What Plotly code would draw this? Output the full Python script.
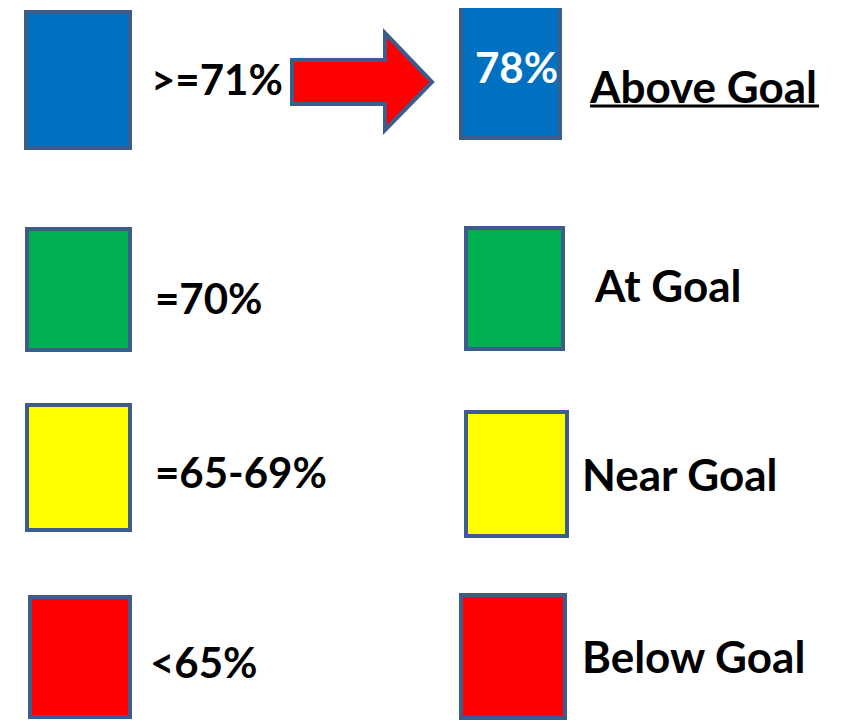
import plotly.graph_objects as go

# legend content
range_labels = [">=71%", "=70%", "=65-69%", "<65%"]
status_labels = ["Above Goal", "At Goal", "Near Goal", "Below Goal"]
fill_colors = ["#0070C0", "#00B050", "#FFFF00", "#FF0000"]
example_value = "78%"

# layout (pixel space of the page, y grows downward)
W, H = 846, 721
PAD = 8  # default body margin of the html page
left_boxes = [(26, 130, 12, 148), (27, 130, 229, 350), (27, 130, 405, 530), (30, 130, 597, 717)]
right_boxes = [(461, 560, 6, 138), (466, 563, 228, 349), (466, 567, 412, 536), (461, 565, 595, 718)]
left_text_pos = [(149, 79), (153, 298), (153, 472), (148, 662)]
right_text_pos = [(587, 86), (592, 285), (580, 474), (580, 656)]
BORDER = "#3C5D8C"
FONT = "Lato"

fig = go.Figure()

for boxes in (left_boxes, right_boxes):
    for (x0, x1, y0, y1), col in zip(boxes, fill_colors):
        fig.add_shape(type="rect", x0=x0, x1=x1, y0=y0, y1=y1,
                      xref="x", yref="y", fillcolor=col,
                      line=dict(color=BORDER, width=4), layer="below")

for (x, y), txt in zip(left_text_pos, range_labels):
    fig.add_annotation(x=x, y=y, text=txt, showarrow=False, xanchor="left", yanchor="middle",
                       font=dict(family=FONT, size=42, color="black", weight="bold"))

for (x, y), txt in zip(right_text_pos, status_labels):
    fig.add_annotation(x=x, y=y, text=txt, showarrow=False, xanchor="left", yanchor="middle",
                       font=dict(family=FONT, size=44, color="black", weight="bold"))

# underline under "Above Goal"
fig.add_shape(type="line", x0=590, x1=819, y0=106, y1=106, xref="x", yref="y",
              line=dict(color="black", width=3))

# value inside the top-right box
bx0, bx1, by0, by1 = right_boxes[0]
fig.add_annotation(x=(bx0 + bx1) / 2 + 6, y=67, text=example_value, showarrow=False,
                   xanchor="center", yanchor="middle",
                   font=dict(family=FONT, size=42, color="white", weight="bold"))

# block arrow
ax0, ax_head, ax_tip = 292, 385, 432
shaft_top, shaft_bot = 60, 104
head_top, head_bot, tip_y = 33, 130, 82
path = (f"M {ax0},{shaft_top} L {ax_head},{shaft_top} L {ax_head},{head_top} "
        f"L {ax_tip},{tip_y} L {ax_head},{head_bot} L {ax_head},{shaft_bot} "
        f"L {ax0},{shaft_bot} Z")
fig.add_shape(type="path", path=path, xref="x", yref="y", fillcolor="#FF0000",
              line=dict(color=BORDER, width=4))

fig.update_xaxes(range=[PAD, W], visible=False, fixedrange=True)
fig.update_yaxes(range=[H, PAD], visible=False, fixedrange=True)
fig.update_layout(width=W - PAD, height=H - PAD, margin=dict(l=0, r=0, t=0, b=0),
                  paper_bgcolor="white", plot_bgcolor="white", showlegend=False)

fig.write_html("out.html")
